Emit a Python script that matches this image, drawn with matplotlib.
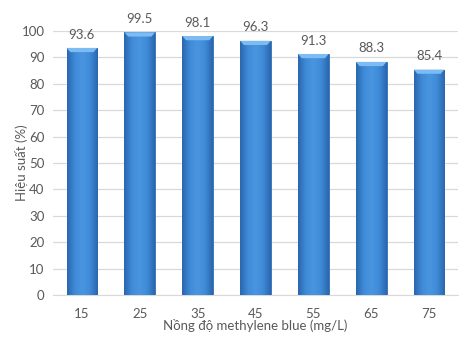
import matplotlib.pyplot as plt
import numpy as np
from matplotlib.colors import LinearSegmentedColormap

plt.rcParams['font.family'] = ['Lato', 'DejaVu Sans']

nong_do = ['15', '25', '35', '45', '55', '65', '75']
hieu_suat = [93.6, 99.5, 98.1, 96.3, 91.3, 88.3, 85.4]

txt = '#595959'
fig = plt.figure(figsize=(4.67, 3.40), dpi=100)
ax = fig.add_axes([53 / 467, 1 - 295 / 340, 405 / 467, 264 / 340])

x = np.arange(len(nong_do))
w = 0.53
bars = ax.bar(x, hieu_suat, width=w, color='#3b82cf', edgecolor='#2f6fb5',
              linewidth=0.6, zorder=2)

# horizontal shading across each bar, clipped to the bar shape
cmap = LinearSegmentedColormap.from_list(
    'bev', ['#2a67ad', '#3f8bd8', '#4a95e0', '#3f8bd8', '#2a67ad'])
grad = np.linspace(0, 1, 64).reshape(1, -1)
for b, v in zip(bars, hieu_suat):
    x0 = b.get_x()
    im = ax.imshow(grad, cmap=cmap, aspect='auto', zorder=3,
                   extent=[x0, x0 + w, 0, v], interpolation='bicubic')
    im.set_clip_path(b)
    # lighter bevel on top
    ax.fill([x0, x0 + w, x0 + w * 0.88, x0 + w * 0.12],
            [v, v, v - 1.6, v - 1.6], color='#7dbcf2', zorder=4, lw=0)
    ax.text(b.get_x() + w / 2, v + 2.8, f'{v:.1f}', ha='center', va='bottom',
            fontsize=9.5, color=txt)

ax.set_xlim(-0.5, len(nong_do) - 0.5)
ax.set_ylim(0, 100)
ax.set_yticks(range(0, 101, 10))
ax.set_xticks(x)
ax.set_xticklabels(nong_do)
ax.grid(axis='y', color='#d9d9d9', linewidth=0.9, zorder=0)
ax.set_axisbelow(True)
for s in ['top', 'right', 'left']:
    ax.spines[s].set_visible(False)
ax.spines['bottom'].set_color('#d9d9d9')
ax.tick_params(axis='both', length=0, labelsize=9.5, colors=txt, pad=6)
ax.tick_params(axis='x', pad=9)
ax.set_xlabel('Nồng độ methylene blue (mg/L)', fontsize=9.5, color=txt,
              labelpad=0)
ax.set_ylabel('Hiệu suất (%)', fontsize=9.5, color=txt)
ax.yaxis.set_label_coords(-0.062, 0.5)

fig.savefig('out.png', dpi=100)
